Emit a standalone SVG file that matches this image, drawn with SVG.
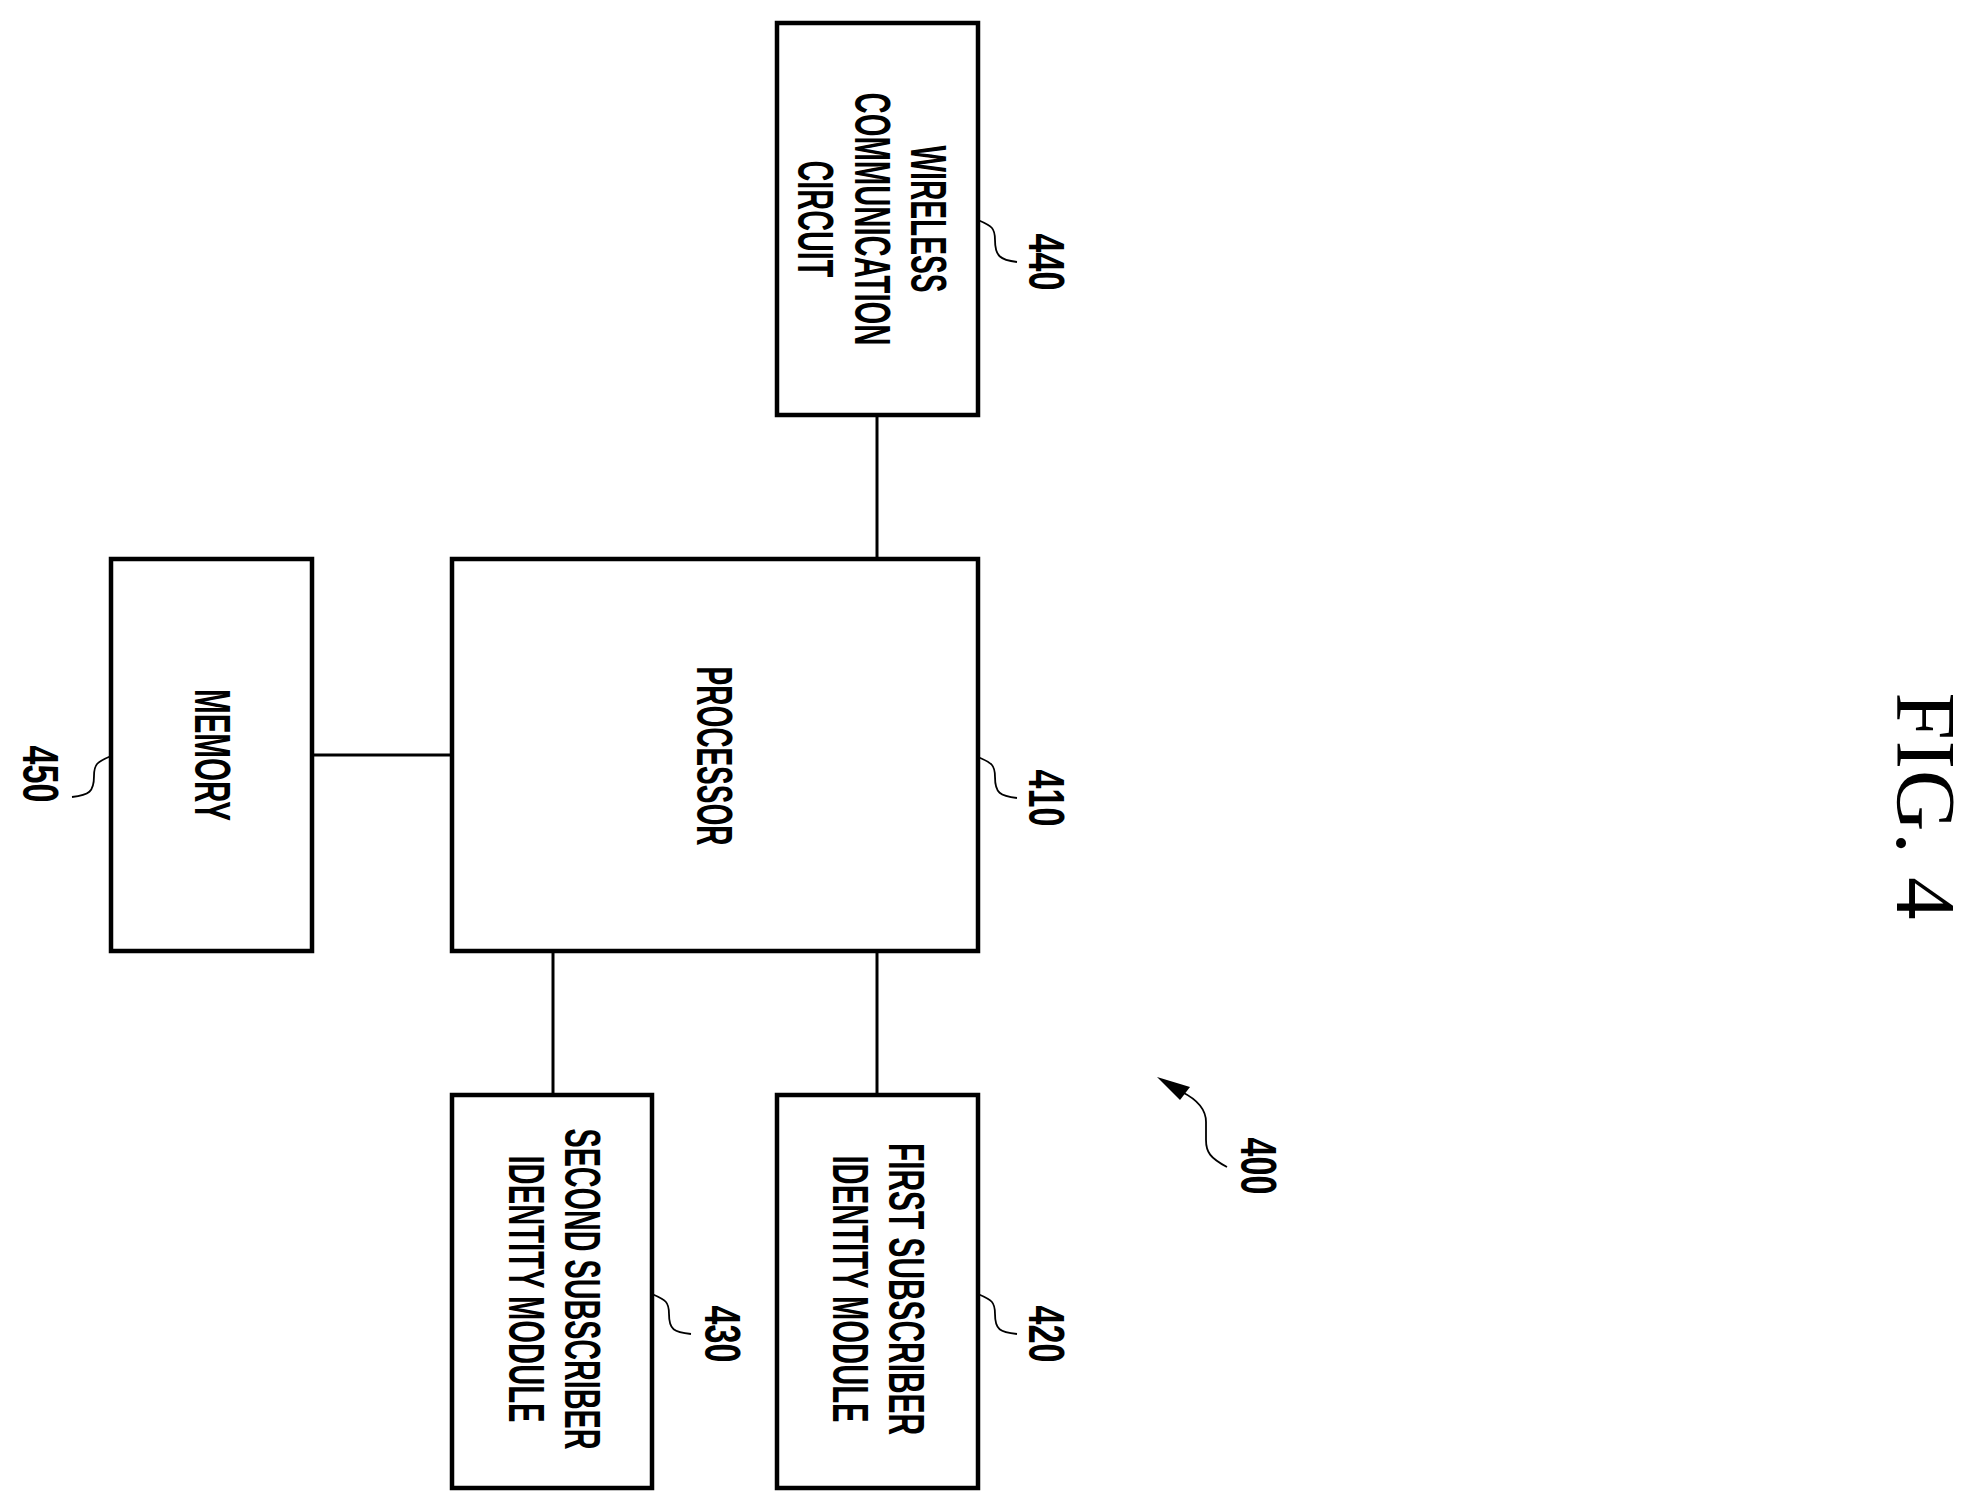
<svg xmlns="http://www.w3.org/2000/svg" width="1964" height="1503" viewBox="0 0 1964 1503">
<style>
.box{fill:#fff;stroke:#000;stroke-width:4.5}
.t{font-family:"Liberation Sans",Arial,sans-serif;font-weight:bold;font-size:50px;text-anchor:middle;dominant-baseline:central}
.n{font-family:"Liberation Sans",Arial,sans-serif;font-weight:bold;font-size:50px;text-anchor:middle;dominant-baseline:central}
.c{stroke:#000;stroke-width:3;fill:none}
.l{stroke:#000;stroke-width:1.8;fill:none}
</style>
<rect width="1964" height="1503" fill="#fff"/>
<g id="connectors">
<line class="c" x1="877" y1="415" x2="877" y2="559"/>
<line class="c" x1="312" y1="755" x2="452" y2="755"/>
<line class="c" x1="877" y1="951" x2="877" y2="1095"/>
<line class="c" x1="553" y1="951" x2="553" y2="1095"/>
</g>
<g id="n440">
<rect class="box" x="777" y="23" width="201" height="392"/>
<text class="t" transform="translate(928,219) rotate(90)" textLength="147" lengthAdjust="spacingAndGlyphs">WIRELESS</text>
<text class="t" transform="translate(872,219) rotate(90)" textLength="253" lengthAdjust="spacingAndGlyphs">COMMUNICATION</text>
<text class="t" transform="translate(815,219) rotate(90)" textLength="117" lengthAdjust="spacingAndGlyphs">CIRCUIT</text>
<path class="l" d="M978,220 C992,226 995,228 995,240 C995,256 1000,260 1017,262"/>
<text class="n" transform="translate(1046,262) rotate(90)" textLength="57" lengthAdjust="spacingAndGlyphs">440</text>
</g>
<g id="n410">
<rect class="box" x="452" y="559" width="526" height="392"/>
<text class="t" transform="translate(714,756) rotate(90)" textLength="179" lengthAdjust="spacingAndGlyphs">PROCESSOR</text>
<path class="l" d="M978,757 C992,763 995,765 995,777 C995,793 1000,796 1017,798"/>
<text class="n" transform="translate(1046,798) rotate(90)" textLength="57" lengthAdjust="spacingAndGlyphs">410</text>
</g>
<g id="n450">
<rect class="box" x="111" y="559" width="201" height="392"/>
<text class="t" transform="translate(212,755) rotate(90)" textLength="132" lengthAdjust="spacingAndGlyphs">MEMORY</text>
<path class="l" d="M111,756 C97,762 94,764 94,776 C94,792 89,795 72,797"/>
<text class="n" transform="translate(40,774) rotate(90)" textLength="57" lengthAdjust="spacingAndGlyphs">450</text>
</g>
<g id="n420">
<rect class="box" x="777" y="1095" width="201" height="393"/>
<text class="t" transform="translate(906,1289) rotate(90)" textLength="292" lengthAdjust="spacingAndGlyphs">FIRST SUBSCRIBER</text>
<text class="t" transform="translate(850,1289) rotate(90)" textLength="267" lengthAdjust="spacingAndGlyphs">IDENTITY MODULE</text>
<path class="l" d="M978,1294 C992,1300 995,1302 995,1314 C995,1330 1000,1332 1017,1334"/>
<text class="n" transform="translate(1046,1334) rotate(90)" textLength="57" lengthAdjust="spacingAndGlyphs">420</text>
</g>
<g id="n430">
<rect class="box" x="452" y="1095" width="200" height="393"/>
<text class="t" transform="translate(582,1289) rotate(90)" textLength="321" lengthAdjust="spacingAndGlyphs">SECOND SUBSCRIBER</text>
<text class="t" transform="translate(526,1289) rotate(90)" textLength="267" lengthAdjust="spacingAndGlyphs">IDENTITY MODULE</text>
<path class="l" d="M652,1294 C666,1300 669,1302 669,1314 C669,1330 674,1332 691,1334"/>
<text class="n" transform="translate(722,1334) rotate(90)" textLength="57" lengthAdjust="spacingAndGlyphs">430</text>
</g>
<g id="n400">
<path class="l" d="M1227,1167 C1210,1158 1206,1152 1206,1140 L1206,1122 C1206,1110 1198,1100 1182,1092"/>
<polygon points="1157,1077 1190,1087 1180,1100" fill="#000"/>
<text class="n" transform="translate(1258,1166) rotate(90)" textLength="57" lengthAdjust="spacingAndGlyphs">400</text>
</g>
<text transform="translate(1926,806) rotate(90)" font-family="Liberation Serif,'Times New Roman',serif" font-size="85" text-anchor="middle" dominant-baseline="central" textLength="227" lengthAdjust="spacing">FIG. 4</text>
</svg>
